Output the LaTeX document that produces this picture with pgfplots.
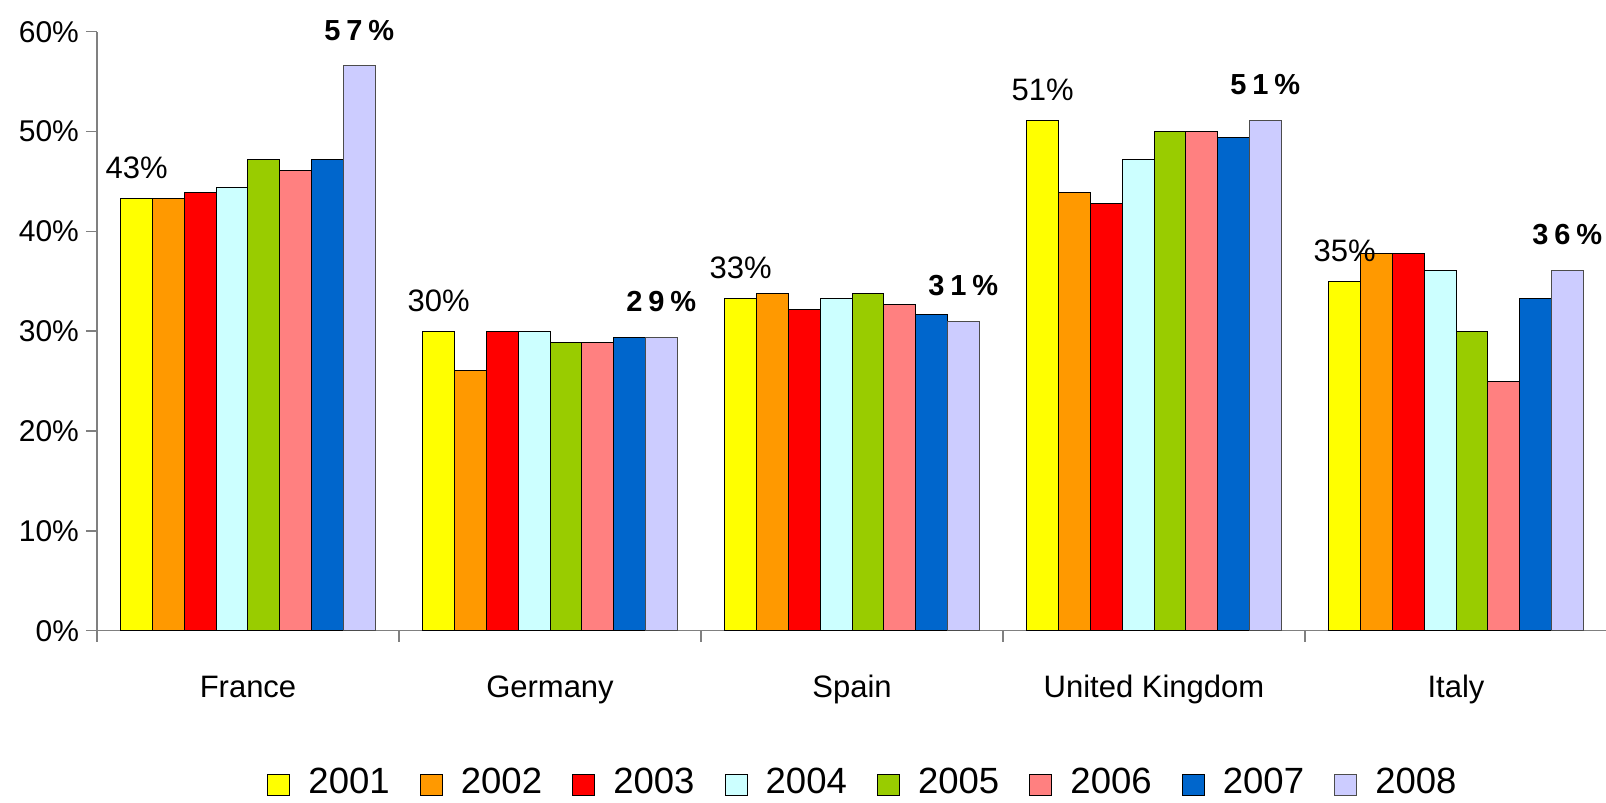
\documentclass[border=0pt]{standalone}
\usepackage{fontspec}
\setmainfont{Liberation Sans}
\usepackage{pgfplots}
\usepackage{pgfplotstable}
\pgfplotsset{compat=1.18}
\definecolor{c1}{HTML}{FFFF00}
\definecolor{c2}{HTML}{FF9900}
\definecolor{c3}{HTML}{FF0000}
\definecolor{c4}{HTML}{CCFFFF}
\definecolor{c5}{HTML}{99CC00}
\definecolor{c6}{HTML}{FF8080}
\definecolor{c7}{HTML}{0066CC}
\definecolor{c8}{HTML}{CCCCFF}
\definecolor{axgray}{HTML}{808080}
\pgfplotstableread{
x y1 y2 y3 y4 y5 y6 y7 y8
0 43.3 43.3 43.9 44.4 47.2 46.1 47.2 56.6
1 30.0 26.1 30.0 30.0 28.9 28.9 29.4 29.4
2 33.3 33.8 32.2 33.3 33.8 32.7 31.7 31.0
3 51.1 43.9 42.8 47.2 50.0 50.0 49.4 51.1
4 35.0 37.8 37.8 36.1 30.0 25.0 33.3 36.1
}\data
\begin{document}
\begin{tikzpicture}
\begin{axis}[
  scale only axis, width=755pt, height=299.5pt,
  ybar=0pt, bar width=15.9pt,
  xmin=-0.5, xmax=4.5, ymin=0, ymax=60,
  axis lines=left,
  axis line style={draw=axgray, line width=0.75pt, -},
  tick align=outside, major tick length=5.5pt,
  tick style={draw=axgray, line width=0.75pt},
  xtick={-0.5,0.5,1.5,2.5,3.5,4.5}, xticklabels={},
  extra x ticks={0,1,2,3,4},
  extra x tick labels={France,Germany,Spain,United Kingdom,Italy},
  extra x tick style={major tick length=0pt,
    xticklabel style={anchor=base, yshift=-33.65pt, font=\fontsize{15.5}{18}\selectfont}},
  ytick={0,10,20,30,40,50,60},
  yticklabel={\pgfmathprintnumber{\tick}\%},
  yticklabel style={font=\fontsize{15}{18}\selectfont},
  /pgf/number format/assume math mode=true,
  legend columns=8,
  legend image code/.code={\draw[#1,/tikz/.cd,line width=0.5pt] (0pt,-6.6pt) rectangle (11pt,4.05pt);},
  legend style={draw=none, fill=none, at={(0.5066,-0.2778)}, anchor=south,
    inner sep=0pt, font=\fontsize{18.25}{22}\selectfont, nodes={inner sep=0pt},
    /tikz/every odd column/.append style={column sep=9pt},
    /tikz/every even column/.append style={column sep=15.1pt}},
]
\addplot[fill=c1, draw=black, line width=0.5pt,
  nodes near coords={\pgfmathprintnumber[fixed,precision=0]{\pgfplotspointmeta}\%},
  every node near coord/.append style={anchor=base, yshift=10pt, text=black,
    font=\fontsize{15.5}{18}\selectfont, /pgf/number format/assume math mode=true}]
  table[x=x,y=y1]{\data};
\addplot[fill=c2, draw=black, line width=0.5pt] table[x=x,y=y2]{\data};
\addplot[fill=c3, draw=black, line width=0.5pt] table[x=x,y=y3]{\data};
\addplot[fill=c4, draw=black, line width=0.5pt] table[x=x,y=y4]{\data};
\addplot[fill=c5, draw=black, line width=0.5pt] table[x=x,y=y5]{\data};
\addplot[fill=c6, draw=black, line width=0.5pt] table[x=x,y=y6]{\data};
\addplot[fill=c7, draw=black, line width=0.5pt] table[x=x,y=y7]{\data};
\addplot[fill=c8, draw=black!70, line width=0.5pt,
  nodes near coords={\pgfmathprintnumber[fixed,precision=0]{\pgfplotspointmeta}\%},
  every node near coord/.append style={anchor=base, yshift=12.8pt, text=black,
    font=\fontsize{14.5}{17}\selectfont\bfseries\addfontfeatures{LetterSpace=20},
    /pgf/number format/assume math mode=true}]
  table[x=x,y=y8]{\data};
\legend{2001,2002,2003,2004,2005,2006,2007,2008}
\end{axis}
\pgfresetboundingbox
\path[use as bounding box] (-48.5pt,-85.7pt) rectangle (754.5pt,315.35pt);
\end{tikzpicture}
\end{document}
